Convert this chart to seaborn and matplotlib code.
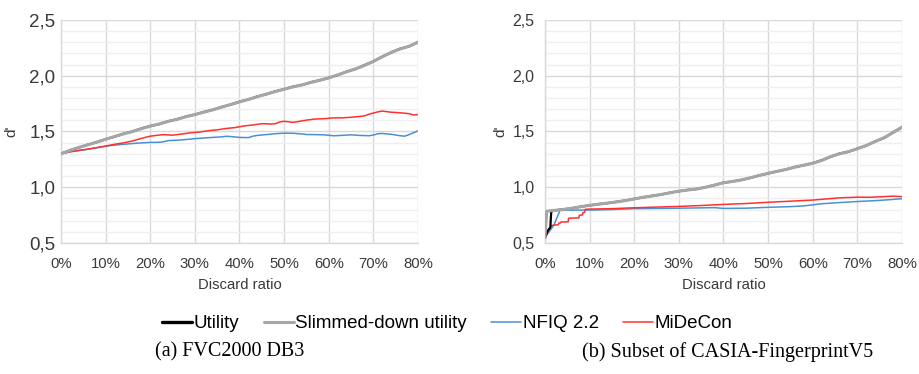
import matplotlib
matplotlib.use("Agg")
import matplotlib.pyplot as plt
from matplotlib.ticker import FuncFormatter, MultipleLocator
from matplotlib.lines import Line2D
import seaborn as sns
import pandas as pd

# ---------------- data: (a) FVC2000 DB3 ----------------
a_util_x = [0, 2, 4, 6, 8, 10, 12, 14, 16, 18, 20, 22, 24, 26, 28, 30, 32, 34, 36, 38, 40,
            42, 44, 46, 48, 50, 52, 54, 56, 58, 60, 62, 64, 66, 68, 70, 72, 74, 76, 78, 80]
a_util_y = [1.300, 1.332, 1.356, 1.382, 1.404, 1.431, 1.454, 1.480, 1.499, 1.527, 1.549,
            1.566, 1.592, 1.609, 1.634, 1.651, 1.675, 1.694, 1.720, 1.741, 1.767, 1.787,
            1.814, 1.834, 1.860, 1.879, 1.902, 1.917, 1.942, 1.959, 1.982, 2.006, 2.037,
            2.060, 2.095, 2.128, 2.172, 2.208, 2.243, 2.263, 2.302]
a_slim_y = [1.300, 1.330, 1.358, 1.380, 1.405, 1.430, 1.455, 1.478, 1.500, 1.525, 1.548,
            1.568, 1.590, 1.610, 1.632, 1.652, 1.673, 1.695, 1.718, 1.742, 1.765, 1.788,
            1.812, 1.835, 1.858, 1.880, 1.900, 1.918, 1.940, 1.960, 1.980, 2.008, 2.035,
            2.062, 2.092, 2.130, 2.170, 2.210, 2.240, 2.265, 2.300]

a_nfiq_x = [0, 2, 4, 6, 8, 10, 12, 14, 16, 18, 20, 22, 23, 24, 26, 28, 30, 32, 34, 36, 37,
            38, 40, 42, 43, 44, 46, 48, 50, 52, 54, 55, 57, 59, 61, 62, 64, 65, 67, 69, 70,
            71, 72, 74, 76, 77, 78, 80]
a_nfiq_y = [1.300, 1.318, 1.330, 1.340, 1.355, 1.368, 1.378, 1.385, 1.392, 1.398, 1.402,
            1.403, 1.408, 1.418, 1.422, 1.428, 1.436, 1.442, 1.447, 1.452, 1.457, 1.455,
            1.447, 1.445, 1.458, 1.465, 1.472, 1.480, 1.485, 1.484, 1.478, 1.473, 1.472,
            1.470, 1.462, 1.463, 1.468, 1.470, 1.465, 1.462, 1.468, 1.480, 1.482, 1.475,
            1.462, 1.458, 1.472, 1.505]

a_mide_x = [0, 2, 4, 6, 8, 10, 12, 14, 16, 18, 20, 22, 23, 25, 27, 29, 31, 33, 35, 37, 39,
            41, 43, 45, 47, 48, 49, 50, 52, 53, 55, 57, 59, 61, 63, 65, 67, 68, 69, 71, 72,
            74, 76, 78, 79, 80]
a_mide_y = [1.300, 1.318, 1.330, 1.342, 1.355, 1.370, 1.385, 1.398, 1.415, 1.438, 1.458,
            1.468, 1.472, 1.467, 1.477, 1.488, 1.495, 1.507, 1.515, 1.527, 1.535, 1.550,
            1.558, 1.570, 1.567, 1.570, 1.585, 1.592, 1.582, 1.588, 1.602, 1.612, 1.615,
            1.622, 1.622, 1.628, 1.635, 1.640, 1.655, 1.676, 1.683, 1.673, 1.668, 1.660,
            1.648, 1.652]

# ---------------- data: (b) Subset of CASIA-FingerprintV5 ----------------
b_slim_x = [0, 0.4, 1, 2, 4, 6, 8, 10, 12, 14, 16, 18, 20, 22, 24, 26, 28, 30, 32, 34, 36,
            38, 40, 42, 44, 46, 48, 50, 52, 54, 56, 58, 60, 62, 64, 66, 68, 70, 72, 74, 76,
            78, 80]
b_slim_y = [0.550, 0.785, 0.788, 0.792, 0.800, 0.812, 0.825, 0.838, 0.848, 0.858, 0.868,
            0.880, 0.895, 0.910, 0.922, 0.935, 0.950, 0.965, 0.975, 0.985, 1.000, 1.020,
            1.040, 1.052, 1.065, 1.085, 1.105, 1.125, 1.142, 1.160, 1.180, 1.198, 1.215,
            1.240, 1.275, 1.300, 1.320, 1.345, 1.375, 1.410, 1.445, 1.490, 1.540]
b_util_x = [0, 0.5, 0.7, 1.0, 1.2, 1.4, 2, 4, 6, 8, 10, 12, 14, 16, 18, 20, 22, 24, 26, 28,
            30, 32, 34, 36, 38, 40, 42, 44, 46, 48, 50, 52, 54, 56, 58, 60, 62, 64, 66, 68,
            70, 72, 74, 76, 78, 80]
b_util_y = [0.550, 0.600, 0.614, 0.630, 0.640, 0.780, 0.792, 0.801, 0.811, 0.826, 0.837,
            0.849, 0.857, 0.869, 0.881, 0.896, 0.909, 0.923, 0.934, 0.951, 0.964, 0.976,
            0.984, 1.001, 1.019, 1.041, 1.051, 1.066, 1.084, 1.106, 1.124, 1.143, 1.159,
            1.181, 1.197, 1.216, 1.242, 1.273, 1.302, 1.318, 1.347, 1.373, 1.412, 1.443,
            1.492, 1.538]

b_nfiq_x = [0, 2, 3.4, 10, 15, 20, 25, 30, 35, 38, 40, 45, 50, 55, 58, 60, 62, 65, 70,
            75, 80]
b_nfiq_y = [0.550, 0.660, 0.795, 0.795, 0.800, 0.808, 0.810, 0.812, 0.815, 0.817, 0.810,
            0.812, 0.820, 0.826, 0.833, 0.842, 0.852, 0.860, 0.872, 0.882, 0.897]

b_mide_x = [0, 0.5, 1.0, 1.3, 1.5, 2.5, 3.0, 3.1, 3.5, 3.6, 5.2, 5.3, 7.6, 7.7, 8.4, 8.5,
            8.9, 9.0, 10, 15, 20, 25, 30, 35, 40, 45, 50, 55, 60, 63, 66, 70, 73, 76, 78, 80]
b_mide_y = [0.540, 0.585, 0.625, 0.645, 0.658, 0.662, 0.664, 0.678, 0.680, 0.688, 0.690,
            0.722, 0.725, 0.748, 0.752, 0.772, 0.776, 0.802, 0.804, 0.808, 0.816, 0.822,
            0.828, 0.836, 0.846, 0.854, 0.865, 0.875, 0.885, 0.895, 0.905, 0.911, 0.910,
            0.916, 0.920, 0.916]

series_names = ["Utility", "Slimmed-down utility", "NFIQ 2.2", "MiDeCon"]
panel_titles = ["(a) FVC2000 DB3", "(b) Subset of CASIA-FingerprintV5"]
x_ticks = [0, 10, 20, 30, 40, 50, 60, 70, 80]
y_ticks = [0.5, 1.0, 1.5, 2.0, 2.5]

# ---------------- style ----------------
sns.set_theme(style="white")
plt.rcParams["font.family"] = ["Liberation Sans", "DejaVu Sans"]

TEXT = "#3a3a3a"
GRID = "#d9d9d9"
MINOR = "#efefef"
styles = {
    "Utility": dict(color="#000000", lw=1.6),
    "Slimmed-down utility": dict(color="#a6a6a6", lw=2.2),
    "NFIQ 2.2": dict(color="#4a90d4", lw=1.1),
    "MiDeCon": dict(color="#ff3030", lw=1.1),
}

fig = plt.figure(figsize=(9.19, 3.74), dpi=100)
ax_a = fig.add_axes([0.0664, 0.3503, 0.3884, 0.5962])
ax_b = fig.add_axes([0.5930, 0.3503, 0.3885, 0.5962])

panels = [
    (ax_a, {"Utility": (a_util_x, a_util_y), "Slimmed-down utility": (a_util_x, a_slim_y),
            "NFIQ 2.2": (a_nfiq_x, a_nfiq_y), "MiDeCon": (a_mide_x, a_mide_y)},
     13.5, 1.2, -0.120),
    (ax_b, {"Utility": (b_util_x, b_util_y), "Slimmed-down utility": (b_slim_x, b_slim_y),
            "NFIQ 2.2": (b_nfiq_x, b_nfiq_y), "MiDeCon": (b_mide_x, b_mide_y)},
     11.5, 4.5, -0.106),
]

draw_order = ["NFIQ 2.2", "MiDeCon", "Utility", "Slimmed-down utility"]

for ax, data, ysize, ypad, ylab_x in panels:
    for name in draw_order:
        xs, ys = data[name]
        df = pd.DataFrame({"ratio": xs, "d": ys})
        sns.lineplot(data=df, x="ratio", y="d", ax=ax, estimator=None, sort=False,
                     color=styles[name]["color"], lw=styles[name]["lw"], zorder=3)
    ax.set_xlim(0, 80)
    ax.set_ylim(0.5, 2.5)
    ax.set_xticks(x_ticks)
    ax.set_yticks(y_ticks)
    ax.yaxis.set_minor_locator(MultipleLocator(0.1))
    ax.xaxis.set_major_formatter(FuncFormatter(lambda v, p: f"{int(round(v))}%"))
    ax.yaxis.set_major_formatter(FuncFormatter(lambda v, p: f"{v:.1f}".replace(".", ",")))
    ax.grid(True, which="major", color=GRID, lw=1.0, zorder=0)
    ax.grid(True, which="minor", axis="y", color=MINOR, lw=1.0, zorder=0)
    ax.set_axisbelow(True)
    for side in ("top", "right"):
        ax.spines[side].set_visible(False)
    for side in ("left", "bottom"):
        ax.spines[side].set_color(GRID)
        ax.spines[side].set_linewidth(1.0)
    ax.tick_params(axis="y", which="major", length=3, width=1, color=GRID,
                   labelsize=ysize, labelcolor=TEXT, pad=ypad)
    ax.tick_params(axis="y", which="minor", length=0)
    ax.tick_params(axis="x", which="major", length=0, labelsize=10.7,
                   labelcolor=TEXT, pad=10)
    ax.set_xlabel("Discard ratio", fontsize=10.7, color=TEXT, labelpad=5)
    ax.set_ylabel("d'", fontsize=11, color=TEXT)
    ax.yaxis.set_label_coords(ylab_x, 0.5)

handles = [Line2D([], [], color=styles[n]["color"], lw=2.4 if n == "Utility" else styles[n]["lw"])
           for n in series_names]
fig.legend(handles, series_names, loc="center", bbox_to_anchor=(0.487, 0.134), ncol=4,
           frameon=False, fontsize=13.5, handlelength=1.6, handletextpad=0.08,
           columnspacing=1.3, labelcolor="#000000")

for title, xc in zip(panel_titles, [0.250, 0.792]):
    fig.text(xc, 0.059, title, ha="center", va="center", fontsize=14.5,
             family=["Liberation Serif", "DejaVu Serif"], color="#000000")

fig.savefig("out.png", dpi=100)
